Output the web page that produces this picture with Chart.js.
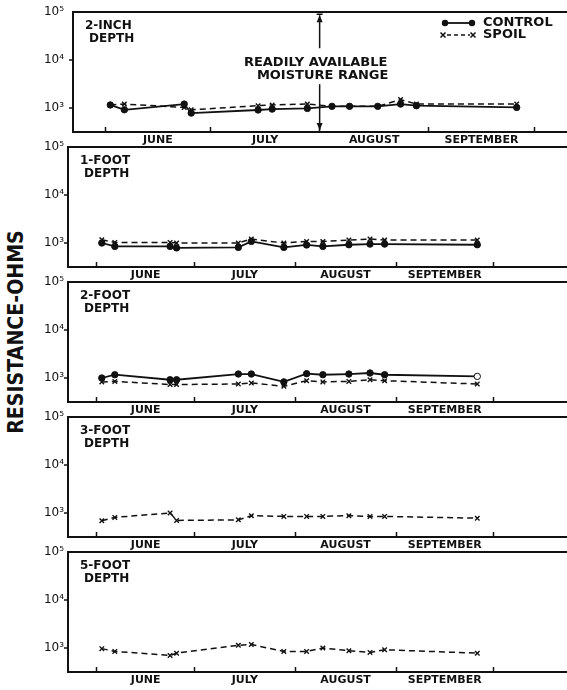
<!DOCTYPE html>
<html>
<head>
<meta charset="utf-8">
<script src="https://cdn.jsdelivr.net/npm/chart.js@4.4.1/dist/chart.umd.min.js"></script>
<style>
  body { margin: 0; background: #fff; width: 567px; height: 690px; overflow: hidden; position: relative; }
  canvas { position: absolute; left: 0; }
  #ytitle {
    position: absolute; left: 15px; top: 332px;
    transform: translate(-50%, -50%) rotate(-90deg) scaleY(1.15);
    font: bold 19px "DejaVu Sans", sans-serif; white-space: nowrap; color: #111;
  }
</style>
</head>
<body>
<div id="ytitle">RESISTANCE-OHMS</div>
<canvas id="p0" width="567" height="148" style="top:0px"></canvas>
<canvas id="p1" width="567" height="148" style="top:135px"></canvas>
<canvas id="p2" width="567" height="148" style="top:270px"></canvas>
<canvas id="p3" width="567" height="148" style="top:405px"></canvas>
<canvas id="p4" width="567" height="148" style="top:540px"></canvas>
<script>
// sampling dates, days counted from June 1
const sampleDays = [1.5, 5.5, 22.5, 24.5, 43.5, 47.5, 57.5, 64.5, 69.5, 77.5, 84, 88.5, 117];
const monthStarts = [0, 30, 61, 92, 122];
const monthNames = ['JUNE', 'JULY', 'AUGUST', 'SEPTEMBER'];
const yTicks = [1e3, 1e4, 1e5];

// resistance in ohms
const control2in = [1160, 920, 1210, 785, 910, 950, 980, 1085, 1085, 1085, 1210, 1120, 1030];
const spoil2in = [1160, 1210, 1030, 920, 1120, 1160, 1210, 1085, 1085, 1085, 1500, 1210, 1210];
const control1ft = [1000, 850, 850, 790, 810, 1080, 810, 910, 850, 920, 950, 950, 920];
const spoil1ft = [1170, 1030, 1030, 1000, 1000, 1210, 1000, 1080, 1080, 1150, 1210, 1150, 1150];
const control2ft = [1000, 1170, 920, 920, 1210, 1210, 830, 1230, 1170, 1210, 1270, 1170, 1080];
const spoil2ft = [830, 850, 730, 730, 750, 790, 670, 880, 830, 850, 920, 880, 750];
const spoil3ft = [690, 810, 1000, 700, 720, 880, 850, 850, 850, 880, 850, 850, 780];
const spoil5ft = [970, 850, 700, 780, 1140, 1180, 850, 850, 1000, 880, 810, 920, 780];

const depthLabels = [['2-INCH', 'DEPTH'], ['1-FOOT', 'DEPTH'], ['2-FOOT', 'DEPTH'], ['3-FOOT', 'DEPTH'], ['5-FOOT', 'DEPTH']];

const panels = [
    { control: control2in, spoil: spoil2in, left: 73, xMin: -9.1, xMax: 131.3 },
    { control: control1ft, spoil: spoil1ft, left: 68, xMin: -8.9, xMax: 144.6 },
    { control: control2ft, spoil: spoil2ft, left: 68, xMin: -8.9, xMax: 144.6 },
    { control: null, spoil: spoil3ft, left: 68, xMin: -8.9, xMax: 144.6 },
    { control: null, spoil: spoil5ft, left: 68, xMin: -8.9, xMax: 144.6 }
];

const sup = { 3: '\u00B3', 4: '\u2074', 5: '\u2075' };
const FONT = '"DejaVu Sans", sans-serif';
const INK = '#111';

// month boundaries get a tick mark, mid-months get the name
let xTickValues = [];
for (let m = 0; m < monthNames.length; m++) {
    xTickValues.push(monthStarts[m]);
    xTickValues.push((monthStarts[m] + monthStarts[m + 1]) / 2);
}
xTickValues.push(monthStarts[monthStarts.length - 1]);

function monthLabel(v) {
    for (let m = 0; m < monthNames.length; m++) {
        if (Math.abs(v - (monthStarts[m] + monthStarts[m + 1]) / 2) < 0.01) return monthNames[m];
    }
    return '';
}

function toPoints(values) {
    return values.map((v, i) => ({ x: sampleDays[i], y: v }));
}

// depth label in the top-left corner of each panel
const depthText = {
    id: 'depthText',
    afterDraw(chart, args, opts) {
        const ctx = chart.ctx, ca = chart.chartArea;
        ctx.save();
        ctx.fillStyle = INK;
        ctx.font = 'bold 12px ' + FONT;
        ctx.textBaseline = 'middle';
        ctx.fillText(opts.lines[0], ca.left + 12, ca.top + 14);
        ctx.fillText(opts.lines[1], ca.left + 16, ca.top + 27);
        ctx.restore();
    }
};

// legend and moisture range arrow, top panel only
const topExtras = {
    id: 'topExtras',
    afterDraw(chart) {
        const ctx = chart.ctx, ca = chart.chartArea;
        const x = chart.scales.x.getPixelForValue(monthStarts[2]);
        ctx.save();
        ctx.strokeStyle = INK;
        ctx.fillStyle = INK;
        ctx.lineWidth = 1.5;
        // upper arrow
        ctx.beginPath();
        ctx.moveTo(x - 3, ca.top + 2); ctx.lineTo(x + 3, ca.top + 2);
        ctx.moveTo(x, ca.top + 3); ctx.lineTo(x, ca.top + 36);
        ctx.stroke();
        ctx.beginPath();
        ctx.moveTo(x, ca.top + 3); ctx.lineTo(x - 3, ca.top + 10); ctx.lineTo(x + 3, ca.top + 10);
        ctx.closePath(); ctx.fill();
        // lower arrow
        ctx.beginPath();
        ctx.moveTo(x, ca.top + 72); ctx.lineTo(x, ca.bottom - 2);
        ctx.stroke();
        ctx.beginPath();
        ctx.moveTo(x, ca.bottom - 2); ctx.lineTo(x - 3, ca.bottom - 9); ctx.lineTo(x + 3, ca.bottom - 9);
        ctx.closePath(); ctx.fill();
        ctx.font = 'bold 13px ' + FONT;
        ctx.textAlign = 'center';
        ctx.textBaseline = 'middle';
        ctx.fillText('READILY AVAILABLE', x - 4, ca.top + 50);
        ctx.fillText('MOISTURE RANGE', x + 3, ca.top + 63);

        // legend
        ctx.textAlign = 'left';
        ctx.lineWidth = 1.8;
        ctx.beginPath();
        ctx.moveTo(445, 23); ctx.lineTo(472, 23);
        ctx.stroke();
        [445, 472].forEach(px => {
            ctx.beginPath(); ctx.arc(px, 23, 3.2, 0, Math.PI * 2); ctx.fill();
        });
        ctx.fillText('CONTROL', 483, 23);
        ctx.lineWidth = 1.5;
        ctx.setLineDash([4, 3]);
        ctx.beginPath();
        ctx.moveTo(447, 35); ctx.lineTo(470, 35);
        ctx.stroke();
        ctx.setLineDash([]);
        [443, 473].forEach(px => {
            ctx.beginPath();
            ctx.moveTo(px - 2.5, 32.5); ctx.lineTo(px + 2.5, 37.5);
            ctx.moveTo(px + 2.5, 32.5); ctx.lineTo(px - 2.5, 37.5);
            ctx.stroke();
        });
        ctx.fillText('SPOIL', 483, 35);
        ctx.restore();
    }
};

function makePanel(p, i) {
    const datasets = [];
    if (p.control) {
        datasets.push({
            label: 'CONTROL',
            data: toPoints(p.control),
            borderColor: INK,
            borderWidth: 1.8,
            pointStyle: 'circle',
            pointRadius: 3.2,
            pointBorderWidth: 1,
            pointBorderColor: INK,
            pointBackgroundColor: ctx => (i === 2 && ctx.dataIndex === p.control.length - 1) ? '#fff' : INK
        });
    }
    datasets.push({
        label: 'SPOIL',
        data: toPoints(p.spoil),
        borderColor: INK,
        borderWidth: 1.5,
        borderDash: [6, 4],
        pointStyle: 'crossRot',
        pointRadius: 3.2,
        pointBorderWidth: 1.4,
        pointBorderColor: INK
    });

    const plugins = [depthText];
    if (i === 0) plugins.push(topExtras);

    return new Chart(document.getElementById('p' + i), {
        type: 'line',
        data: { datasets: datasets },
        plugins: plugins,
        options: {
            responsive: false,
            animation: false,
            devicePixelRatio: 1,
            layout: { autoPadding: false, padding: { top: 12, left: 0, right: 0, bottom: 0 } },
            plugins: {
                legend: { display: false },
                tooltip: { enabled: false },
                depthText: { lines: depthLabels[i] }
            },
            scales: {
                x: {
                    type: 'linear',
                    min: p.xMin,
                    max: p.xMax,
                    afterBuildTicks: s => { s.ticks = xTickValues.map(v => ({ value: v })); },
                    afterFit: s => { s.height = 16; },
                    ticks: {
                        autoSkip: false,
                        maxRotation: 0,
                        padding: 7,
                        color: INK,
                        font: { family: FONT, size: 11, weight: 'bold' },
                        callback: v => monthLabel(v)
                    },
                    grid: {
                        drawOnChartArea: false,
                        tickLength: -5,
                        tickWidth: 1.5,
                        tickColor: ctx => (ctx.tick && monthLabel(ctx.tick.value) === '') ? INK : 'rgba(0,0,0,0)'
                    },
                    border: { color: INK, width: 2 }
                },
                y: {
                    type: 'logarithmic',
                    min: Math.pow(10, 2.5),
                    max: 1e5,
                    afterBuildTicks: s => { s.ticks = yTicks.map(v => ({ value: v })); },
                    afterFit: s => { s.width = p.left; },
                    ticks: {
                        padding: p.left - 4 - 64,
                        color: INK,
                        font: { family: FONT, size: 12 },
                        callback: v => '10' + sup[Math.round(Math.log10(v))]
                    },
                    grid: {
                        lineWidth: 2,
                        color: ctx => (ctx.tick && ctx.tick.value === 1e5) ? INK : 'rgba(0,0,0,0)',
                        tickLength: 4,
                        tickWidth: 1.5,
                        tickColor: ctx => (ctx.tick && ctx.tick.value === 1e5) ? 'rgba(0,0,0,0)' : INK
                    },
                    border: { color: INK, width: 2 }
                }
            }
        }
    });
}

panels.forEach(makePanel);
</script>
</body>
</html>
